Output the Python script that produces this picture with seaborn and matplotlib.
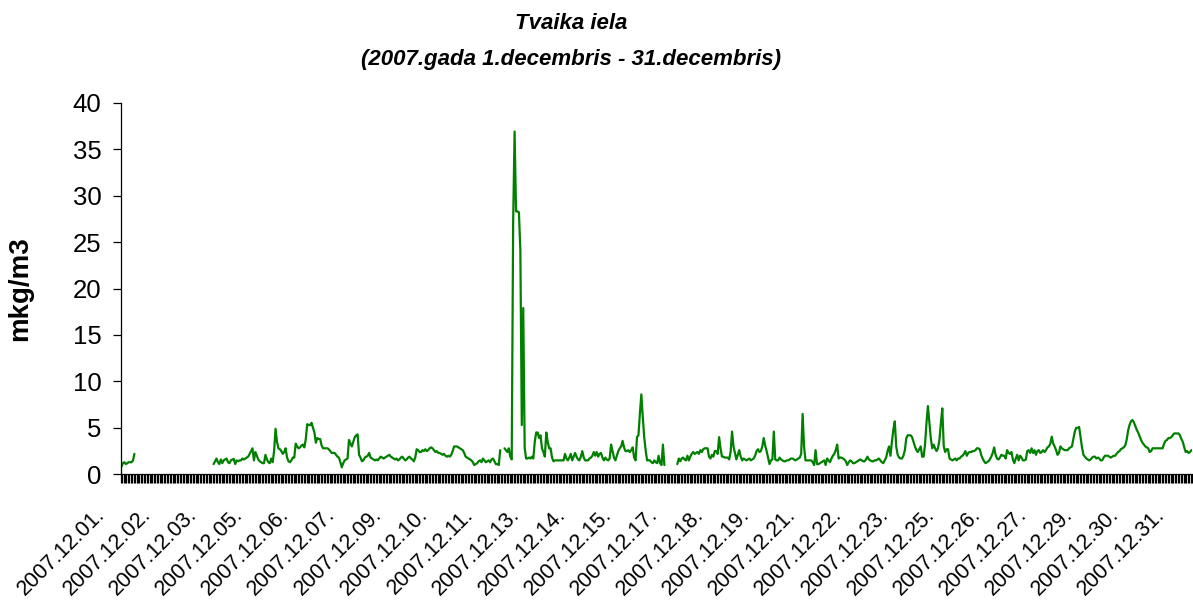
import numpy as np
import pandas as pd
import matplotlib
matplotlib.use("Agg")
import matplotlib.pyplot as plt
from matplotlib.transforms import ScaledTranslation
import seaborn as sns

# hourly values (mkg/m3), one list per day, None = no measurement
dec01 = [0.8, 1.2, 1.3, 1.1, 1.2, 1.3, 1.3, 1.3, 1.5, 2.2, None, None,
         None, None, None, None, None, None, None, None, None, None, None, None]
dec02 = [None, None, None, None, None, None, None, None, None, None, None, None,
         None, None, None, None, None, None, None, None, None, None, None, None]
dec03 = [None, None, None, None, None, None, None, None, None, None, None, None,
         None, None, None, None, 1.1, 1.4, 1.7, 1.3, 1.1, 1.6, 1.2, 1.5]
dec04 = [1.6, 1.7, 1.3, 1.2, 1.5, 1.6, 1.65, 1.1, 1.5, 1.4, 1.5, 1.5,
         1.7, 1.6, 1.7, 1.8, 1.9, 2.2, 2.5, 2.8, 1.5, 2.4, 2.0, 1.6]
dec05 = [1.4, 1.3, 1.2, 1.2, 2.1, 1.6, 1.3, 1.2, 1.7, 1.3, 2.5, 4.9,
         3.5, 2.8, 2.7, 2.5, 2.2, 2.4, 2.8, 1.8, 1.4, 1.3, 1.5, 1.8]
dec06 = [1.8, 3.3, 3.0, 2.8, 2.9, 3.1, 3.2, 2.9, 3.8, 5.4, 5.3, 5.3,
         5.55, 5.0, 4.5, 3.4, 3.9, 3.8, 3.8, 3.1, 2.8, 2.8, 2.8, 2.8]
dec07 = [2.7, 2.5, 2.3, 2.3, 2.3, 2.1, 1.9, 1.8, 1.3, 0.75, 1.2, 1.5,
         1.6, 1.7, 3.7, 3.3, 3.0, 3.5, 4.0, 4.2, 4.3, 2.1, 1.8, 1.4]
dec08 = [1.5, 1.8, 1.9, 2.0, 2.3, 1.8, 1.7, 1.6, 1.5, 1.6, 1.5, 1.7,
         1.9, 1.8, 1.7, 1.8, 1.9, 2.0, 2.1, 1.9, 1.8, 1.7, 1.6, 1.7]
dec09 = [1.5, 1.6, 1.8, 1.9, 1.7, 1.5, 1.6, 1.8, 1.9, 1.7, 1.6, 1.4,
         1.8, 2.7, 2.6, 2.4, 2.4, 2.6, 2.5, 2.7, 2.5, 2.6, 2.8, 2.9]
dec10 = [2.8, 2.6, 2.4, 2.5, 2.3, 2.3, 2.2, 2.1, 2.2, 2.0, 1.9, 2.0,
         1.9, 2.1, 2.5, 3.0, 3.0, 3.0, 2.9, 2.8, 2.7, 2.6, 2.3, 1.9]
dec11 = [1.8, 1.7, 1.6, 1.5, 1.3, 1.0, 1.1, 1.2, 1.4, 1.5, 1.3, 1.7,
         1.5, 1.3, 1.4, 1.5, 1.3, 1.6, 1.7, 1.4, 1.1, 1.1, 1.0, 2.6]
dec12 = [None, None, 2.8, 2.6, 2.4, 2.8, 1.9, 1.6, 27.2, 36.9, 28.3, 28.3,
         28.2, 24.1, 5.3, 17.9, 2.8, 1.7, 1.7, 1.8, 1.7, 1.9, 1.7, 3.5]
dec13 = [4.5, 4.5, 3.9, 4.2, 2.8, 2.4, 1.9, 4.5, 3.5, 2.8, 2.8, 1.8,
         1.4, 1.5, 1.5, 1.5, 1.5, 1.5, 1.5, 1.5, 2.2, 1.7, 1.5, 1.8]
dec14 = [2.2, 1.5, 1.9, 2.3, 1.9, 1.6, 1.5, 1.9, 2.5, 1.8, 1.5, 1.5,
         1.5, 1.7, 1.8, 2.0, 2.4, 2.0, 2.4, 1.9, 2.2, 2.3, 1.8, 1.5]
dec15 = [1.8, 1.6, 1.5, 1.7, 3.2, 2.5, 1.8, 1.5, 2.0, 2.5, 2.8, 3.0,
         3.6, 2.9, 2.5, 2.5, 2.6, 2.4, 2.6, 2.9, 1.8, 1.5, 4.0, 4.2]
dec16 = [6.5, 8.6, 6.2, 4.0, 2.6, 1.5, 1.5, 1.5, 1.3, 1.2, 1.5, 1.3,
         1.2, 2.0, 1.2, 1.0, 3.2, 1.0, None, None, None, None, None, None]
dec17 = [None, None, 1.1, 1.7, 1.4, 1.7, 1.8, 1.6, 1.5, 2.0, 1.5, 1.9,
         2.2, 2.4, 2.2, 2.3, 2.4, 2.2, 2.6, 2.4, 2.7, 2.8, 2.8, 2.8]
dec18 = [1.9, 1.7, 2.1, 1.9, 2.5, 2.5, 2.2, 4.0, 2.8, 1.9, 1.9, 1.8,
         1.8, 1.8, 1.6, 2.4, 4.6, 3.0, 2.3, 1.6, 2.1, 2.6, 1.9, 1.5]
dec19 = [1.7, 1.6, 1.5, 1.6, 1.7, 1.5, 1.6, 1.7, 2.0, 2.5, 2.7, 2.4,
         2.5, 3.0, 3.9, 3.1, 2.5, 1.8, 1.1, 1.5, 1.6, 4.6, 1.6, 1.5]
dec20 = [1.5, 1.8, 1.6, 1.5, 1.4, 1.4, 1.5, 1.5, 1.6, 1.7, 1.7, 1.6,
         1.5, 1.6, 1.7, 1.8, 2.2, 6.5, 3.0, 1.5, 1.5, 1.5, 1.5, 1.5]
dec21 = [1.3, 1.0, 2.6, 1.1, 1.1, 1.2, 1.3, 1.4, 1.5, 1.0, 1.7, 1.5,
         1.3, 1.7, 2.0, 2.2, 2.6, 3.2, 1.7, 1.8, 1.8, 1.7, 1.6, 1.4]
dec22 = [1.0, 1.3, 1.5, 1.4, 1.2, 1.2, 1.3, 1.4, 1.5, 1.6, 1.5, 1.4,
         1.4, 1.6, 1.9, 1.6, 1.5, 1.4, 1.4, 1.5, 1.5, 1.6, 1.7, 1.5]
dec23 = [1.3, 1.2, 1.5, 1.8, 2.5, 3.0, 2.0, 3.5, 4.8, 5.7, 3.0, 2.1,
         1.8, 1.7, 1.7, 2.0, 2.6, 3.9, 4.2, 4.2, 4.2, 4.0, 3.5, 3.0]
dec24 = [2.6, 2.4, 2.7, 3.0, 1.9, 1.9, 3.2, 5.5, 7.35, 5.6, 3.9, 2.8,
         3.2, 2.8, 2.5, 2.8, 3.7, 5.5, 7.1, 3.0, 2.4, 2.7, 2.7, 1.7]
dec25 = [1.6, 1.5, 1.6, 1.7, 1.5, 1.7, 1.7, 1.9, 2.0, 2.2, 2.5, 2.0,
         2.3, 2.4, 2.4, 2.5, 2.5, 2.6, 2.8, 2.8, 2.7, 2.1, 1.7, 1.4]
dec26 = [1.2, 1.3, 1.4, 1.6, 1.9, 2.3, 2.9, 2.1, 1.7, 1.6, 1.8, 2.1,
         2.0, 2.0, 1.7, 2.6, 2.3, 2.2, 2.4, 1.6, 1.2, 1.7, 2.1, 1.5]
dec27 = [2.0, 1.8, 1.5, 1.5, 1.6, 2.5, 2.6, 2.3, 2.8, 2.3, 2.6, 2.1,
         2.5, 2.6, 2.3, 2.4, 2.6, 2.4, 2.6, 2.9, 3.0, 3.3, 4.05, 3.3]
dec28 = [3.0, 2.6, 2.1, 2.3, 3.0, 2.8, 2.7, 2.6, 2.6, 2.6, 2.8, 2.9,
         3.0, 3.8, 4.6, 5.0, 5.0, 5.1, 4.0, 2.9, 2.1, 1.9, 1.7, 1.6]
dec29 = [1.5, 1.6, 1.8, 1.9, 1.9, 1.7, 1.8, 1.7, 1.5, 1.5, 1.8, 2.0,
         2.0, 2.0, 1.9, 1.8, 1.9, 2.0, 2.0, 2.2, 2.4, 2.5, 2.7, 2.8]
dec30 = [2.9, 3.1, 3.7, 4.7, 5.3, 5.7, 5.85, 5.6, 5.2, 4.8, 4.5, 4.1,
         3.7, 3.4, 3.2, 3.0, 2.9, 2.8, 2.4, 2.5, 2.8, 2.8, 2.8, 2.8]
dec31 = [2.8, 2.8, 2.8, 2.8, 3.3, 3.6, 3.7, 3.9, 3.9, 4.0, 4.2, 4.4,
         4.4, 4.4, 4.4, 4.2, 3.8, 3.5, 2.9, 2.4, 2.5, 2.3, 2.4, 2.6]

days = [dec01, dec02, dec03, dec04, dec05, dec06, dec07, dec08, dec09, dec10,
        dec11, dec12, dec13, dec14, dec15, dec16, dec17, dec18, dec19, dec20,
        dec21, dec22, dec23, dec24, dec25, dec26, dec27, dec28, dec29, dec30, dec31]

title_lines = ["Tvaika iela", "(2007.gada 1.decembris - 31.decembris)"]
y_label = "mkg/m3"
label_step = 32  # excel shows every 32nd category label

values = np.array([v for d in days for v in d], dtype=float)
dates = [f"2007.12.{i + 1:02d}." for i, d in enumerate(days) for _ in d]
df = pd.DataFrame({"hour": np.arange(len(values)), "value": values, "date": dates})
# gaps in the measurements split the line into separate pieces
df["segment"] = df.value.isna().cumsum()
df = df.dropna(subset=["value"])

sns.set_style("white")
plt.rcParams["font.family"] = ["Liberation Sans", "DejaVu Sans"]
plt.rcParams["text.color"] = "black"
plt.rcParams["axes.labelcolor"] = "black"
plt.rcParams["xtick.color"] = "black"
plt.rcParams["ytick.color"] = "black"

fig = plt.figure(figsize=(11.93, 6.06), dpi=100)
ax = fig.add_axes([0.1012, 0.2173, 0.8981, 0.6132])
sns.lineplot(data=df, x="hour", y="value", units="segment", estimator=None,
             color="#008000", lw=1.6, ax=ax, legend=False)

n = len(values)
ax.set_xlim(-0.5, n - 0.5)
ax.set_ylim(0, 40)
ax.set_yticks(range(0, 41, 5))
ax.set_xticks(np.arange(0, n, label_step))
ax.set_xticklabels(dates[::label_step])
ax.set_xticks(np.arange(-0.5, n, 1), minor=True)
ax.tick_params(axis="both", which="both", bottom=True, left=True)
ax.tick_params(axis="x", which="major", length=0, pad=27, labelsize=15.5,
               labelrotation=45, labelcolor="black")
ax.tick_params(axis="x", which="minor", length=6.5, width=0.9, color="black", direction="out")
ax.tick_params(axis="y", length=6, width=0.9, color="black", direction="out",
               labelsize=18.5, pad=8, labelcolor="black")
offset = ScaledTranslation(-19.7 / 100, 0, fig.dpi_scale_trans)
for lbl in ax.get_xticklabels():
    lbl.set_ha("right")
    lbl.set_va("center")
    lbl.set_rotation_mode("anchor")
    lbl.set_transform(lbl.get_transform() + offset)

for side in ["top", "right"]:
    ax.spines[side].set_visible(False)
for side in ["left", "bottom"]:
    ax.spines[side].set_color("black")
    ax.spines[side].set_linewidth(0.9)

ax.set_xlabel("")
ax.set_ylabel(y_label, fontsize=20, fontweight="bold", color="black")
ax.yaxis.set_label_coords(-0.0819, 0.5)

for line, base in zip(title_lines, [29.3, 65]):
    fig.text(0.4786, 1 - base / 606, line, ha="center", va="baseline",
             fontsize=16, fontweight="bold", fontstyle="italic", color="black")

fig.savefig("out.png", dpi=100)
